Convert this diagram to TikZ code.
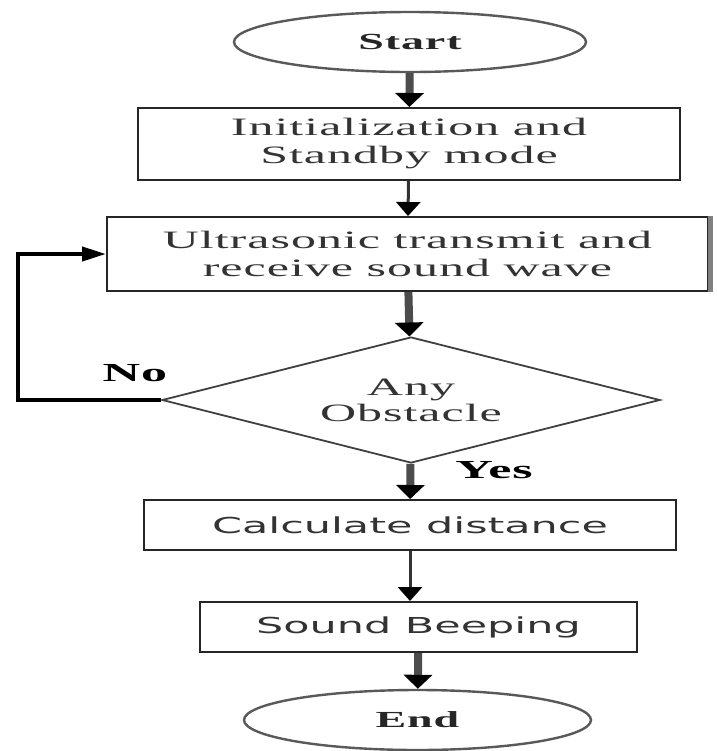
\documentclass[tikz,border=0pt]{standalone}
\usepackage{fontspec}
\usetikzlibrary{shapes.geometric,arrows.meta}
\newfontfamily\serifwide[FakeStretch=2.0,LetterSpace=4]{Liberation Serif}
\newfontfamily\sanswide[FakeStretch=1.95]{DejaVu Sans}
\tikzset{
  term/.style={ellipse, draw=black!65, line width=1.2pt, inner sep=0pt,
    minimum width=#1, minimum height=30pt, text=black!85,
    font=\serifwide\bfseries\fontsize{11.5}{14}\selectfont},
  proc/.style={rectangle, draw=black!85, line width=1pt, inner sep=0pt,
    align=center, text=black!80, font=\serifwide\fontsize{12.5}{14}\selectfont},
  sansbox/.style={font=\sanswide\fontsize{11}{13}\selectfont},
  dec/.style={diamond, draw=black!75, line width=0.9pt, aspect=3.95,
    minimum width=249pt, minimum height=63pt, inner sep=0pt, align=center,
    text=black!80, font=\serifwide\fontsize{12.5}{13}\selectfont},
  lbl/.style={font=\serifwide\bfseries\fontsize{13}{15}\selectfont},
  thickflow/.style={draw=black!70, line width=4pt,
    -{Triangle[width=14pt,length=7pt,color=black]}},
  thinflow/.style={draw=black!80, line width=1.5pt,
    -{Triangle[width=12pt,length=7pt,color=black]}},
  backline/.style={draw=black, line width=2pt,
    -{Triangle[width=7pt,length=12pt]}}
}
\begin{document}
\begin{tikzpicture}[x=0.5pt,y=-0.5pt]
  \useasboundingbox (0,0) rectangle (717,751);
  \node[term=176pt] (start) at (410,42) {Start};
  \node[proc, minimum width=271pt, minimum height=36pt] (init) at (409,144)
    {Initialization and\\Standby mode};
  \node[proc, minimum width=300.5pt, minimum height=37pt] (ultra) at (407.5,254)
    {Ultrasonic transmit and\\receive sound wave};
  \node[dec] (obst) at (411,400) {Any\\Obstacle};
  \node[proc, sansbox, minimum width=266pt, minimum height=25pt] (calc) at (410,525)
    {Calculate distance};
  \node[proc, sansbox, minimum width=218.5pt, minimum height=25pt] (beep) at (418.5,627)
    {Sound Beeping};
  \node[term=173.5pt] (end) at (417.5,720) {End};
  \node[lbl] (no) at (135,373) {No};
  \node[lbl] (yes) at (494,470) {Yes};
  \coordinate (back) at (18,0);
  \draw[gray, line width=2.5pt] ([xshift=0.5pt]ultra.north east) -- ([xshift=0.5pt]ultra.south east);
  \draw[thickflow] (start) -- (init);
  \draw[thinflow] (init) -- (ultra);
  \draw[thickflow] (ultra) -- (obst);
  \draw[thickflow] (obst) -- (calc);
  \draw[thinflow] (calc.south) -- (calc.south |- beep.north);
  \draw[thickflow] (beep) -- (end);
  \draw[backline] (obst.west) -- (obst.west -| back) |- (ultra.west);
\end{tikzpicture}
\end{document}
